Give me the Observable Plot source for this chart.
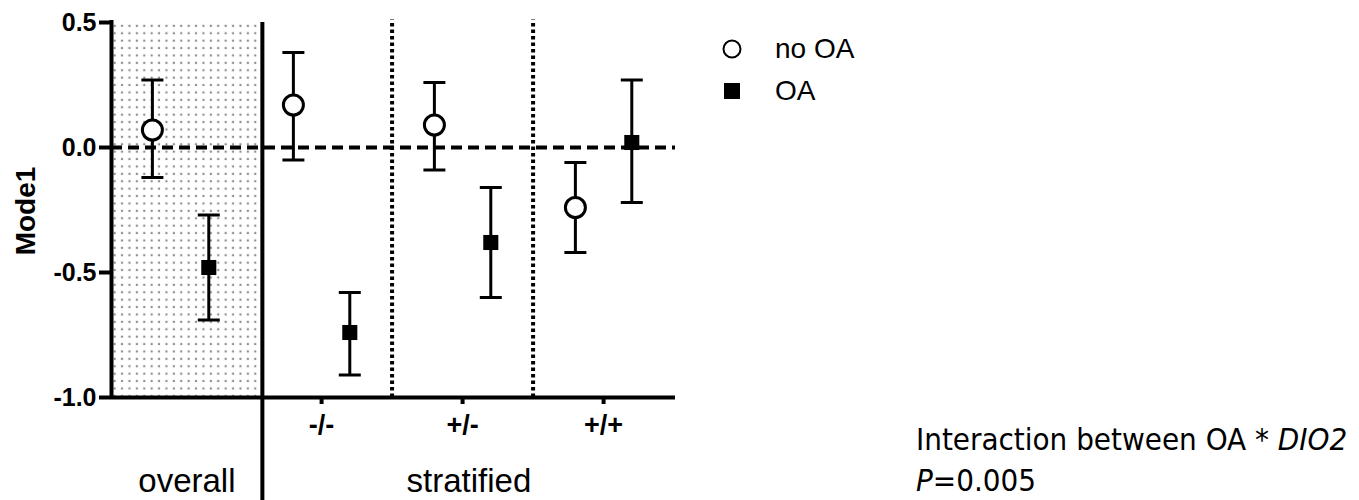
<!DOCTYPE html>
<html>
<head>
<meta charset="utf-8">
<script src="https://cdn.jsdelivr.net/npm/d3@7"></script>
<script src="https://cdn.jsdelivr.net/npm/@observablehq/plot@0.6"></script>
<style>
  body { margin: 0; background: #fff; }
  #wrap { position: relative; width: 1359px; height: 500px; font-family: "Liberation Sans", Arial, sans-serif; color: #000; overflow: hidden; }
  #chart svg { display: block; }
  .leg { position: absolute; left: 722px; height: 30px; display: flex; align-items: center; font-size: 28px; white-space: nowrap; }
  .leg svg { width: 20px; height: 20px; margin-right: 33px; flex: none; }
  #note { position: absolute; left: 916px; top: 419px; font-family: "DejaVu Sans Condensed", "DejaVu Sans", sans-serif; font-stretch: condensed; font-size: 31px; line-height: 41px; white-space: nowrap; }
</style>
</head>
<body>
<div id="wrap">
  <div id="chart"></div>
  <div id="legend"></div>
  <div id="note">Interaction between OA * <i>DIO2</i><br><i>P</i>=0.005</div>
</div>
<script>
// ---- data ----
const categories = ["overall", "-/-", "+/-", "+/+"];
const xTickLabels = ["-/-", "+/-", "+/+"];
const yTickValues = [-1, -0.5, 0, 0.5];
const yTickLabels = ["-1.0", "-0.5", "0.0", "0.5"];
const seriesNames = ["no OA", "OA"];
const noOAMean = [0.07, 0.17, 0.09, -0.24];
const noOALow  = [-0.12, -0.05, -0.09, -0.42];
const noOAHigh = [0.27, 0.38, 0.26, -0.06];
const OAMean   = [-0.48, -0.74, -0.38, 0.02];
const OALow    = [-0.69, -0.91, -0.60, -0.22];
const OAHigh   = [-0.27, -0.58, -0.16, 0.27];
const groupLabels = ["overall", "stratified"];
const yLabel = "Mode1";

// ---- layout helpers ----
const xDomain = [-0.49, 3.51];
const overallDivider = 0.58;
const stratDividers = [1.5, 2.5];
const dodge = {"no OA": -0.2, "OA": 0.2};

const rows = [];
categories.forEach((c, i) => {
  rows.push({cat: c, series: "no OA", x: i + dodge["no OA"], mean: noOAMean[i], lo: noOALow[i], hi: noOAHigh[i]});
  rows.push({cat: c, series: "OA", x: i + dodge["OA"], mean: OAMean[i], lo: OALow[i], hi: OAHigh[i]});
});
const noOARows = rows.filter(d => d.series === "no OA");
const OARows = rows.filter(d => d.series === "OA");

const shadeRegion = [{x1: xDomain[0], x2: overallDivider, y1: -1, y2: 0.5}];
const groupRows = [
  {label: groupLabels[0], x: (xDomain[0] + overallDivider) / 2},
  {label: groupLabels[1], x: (overallDivider + xDomain[1]) / 2}
];

const capSymbol = {
  draw(ctx, size) {
    const r = Math.sqrt(size / Math.PI);
    ctx.moveTo(-r, 0);
    ctx.lineTo(r, 0);
  }
};

const plot = Plot.plot({
  width: 1359,
  height: 500,
  marginLeft: 111,
  marginRight: 684,
  marginTop: 22,
  marginBottom: 103,
  x: {domain: xDomain, axis: null},
  y: {domain: [-1, 0.5], axis: null},
  style: {fontFamily: "'Liberation Sans', Arial, sans-serif", color: "#000", background: "#fff", overflow: "visible"},
  marks: [
    Plot.rect(shadeRegion, {x1: "x1", x2: "x2", y1: "y1", y2: "y2", fill: "#cccccc"}),
    Plot.ruleY([0], {stroke: "#000", strokeWidth: 4, strokeDasharray: "11,6"}),
    Plot.ruleX(stratDividers, {y1: -1, y2: 0.51, stroke: "#000", strokeWidth: 4, strokeDasharray: "3.5,3"}),
    Plot.ruleX([overallDivider], {y1: 0.5, y2: -1.42, stroke: "#000", strokeWidth: 4}),
    Plot.ruleX([xDomain[0]], {y1: -1, y2: 0.5, stroke: "#000", strokeWidth: 4, strokeLinecap: "square"}),
    Plot.ruleY([-1], {stroke: "#000", strokeWidth: 4}),
    Plot.axisY(yTickValues, {
      anchor: "left", tickSize: 12, tickPadding: 3, strokeWidth: 4,
      tickFormat: d => yTickLabels[yTickValues.indexOf(d)],
      fontSize: 25, fontWeight: "bold", label: null
    }),
    Plot.axisX([1, 2, 3], {
      anchor: "bottom", tickSize: 7, tickPadding: 10, strokeWidth: 4,
      tickFormat: d => xTickLabels[d - 1],
      fontSize: 27, fontWeight: "bold", label: null
    }),
    Plot.text([yLabel], {frameAnchor: "left", textAnchor: "middle", dx: -85, dy: 1, rotate: -90, fontSize: 28, fontWeight: "bold", fill: "#000"}),
    Plot.text(groupRows, {x: "x", text: "label", frameAnchor: "bottom", lineAnchor: "bottom", dy: 94, fontSize: 33, fill: "#000"}),
    // error bars
    Plot.ruleX(rows, {x: "x", y1: "lo", y2: "hi", stroke: "#000", strokeWidth: 3}),
    Plot.dot(rows, {x: "x", y: "lo", symbol: capSymbol, r: 11, stroke: "#000", strokeWidth: 3, fill: "none"}),
    Plot.dot(rows, {x: "x", y: "hi", symbol: capSymbol, r: 11, stroke: "#000", strokeWidth: 3, fill: "none"}),
    // points
    Plot.dot(noOARows, {x: "x", y: "mean", symbol: "circle", r: 10, fill: "#fff", stroke: "#000", strokeWidth: 3}),
    Plot.dot(OARows, {x: "x", y: "mean", symbol: "square", r: 8.5, fill: "#000", stroke: "none"})
  ]
});

// dotted pattern for the "overall" panel
const svg = d3.select(plot);
svg.insert("defs", ":first-child").html(
  '<pattern id="dots" width="7.4" height="7.4" patternUnits="userSpaceOnUse">' +
  '<rect width="7.4" height="7.4" fill="#fff"/>' +
  '<rect x="2.6" y="2.6" width="2.1" height="2.1" fill="#8c8c8c"/></pattern>'
);
svg.select('g[aria-label="rect"]').attr("fill", "url(#dots)");

document.getElementById("chart").appendChild(plot);

// legend
const legend = document.getElementById("legend");
const legendY = [49, 91];
seriesNames.forEach((name, i) => {
  const item = document.createElement("div");
  item.className = "leg";
  item.style.top = (legendY[i] - 15) + "px";
  const sym = i === 0
    ? '<svg viewBox="0 0 20 20"><circle cx="10" cy="10" r="8.5" fill="#fff" stroke="#000" stroke-width="2"/></svg>'
    : '<svg viewBox="0 0 20 20"><rect x="2" y="2" width="16" height="16" fill="#000"/></svg>';
  item.innerHTML = sym + "<span>" + name + "</span>";
  legend.appendChild(item);
});
</script>
</body>
</html>
